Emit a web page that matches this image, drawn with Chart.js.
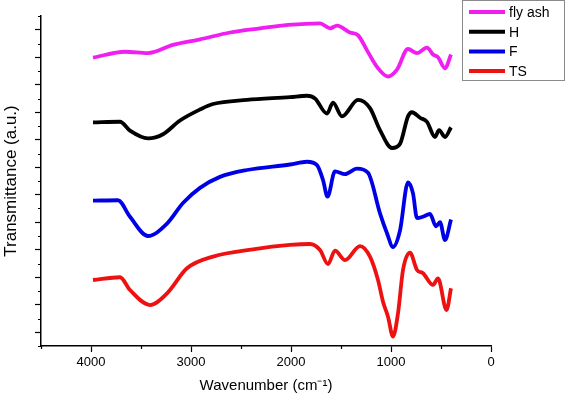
<!DOCTYPE html>
<html>
<head>
<meta charset="utf-8">
<script src="https://cdn.jsdelivr.net/npm/chart.js@4"></script>
<style>
  html, body { margin: 0; padding: 0; background: #fff; }
  #wrap { width: 565px; height: 399px; }
</style>
</head>
<body>
<div id="wrap"><canvas id="ftir" width="565" height="399"></canvas></div>
<script>
// series names and colours
const seriesNames = ['fly ash', 'H', 'F', 'TS'];
const seriesColors = ['#f01ef0', '#000000', '#0000e6', '#ee1111'];

// wavenumber (cm-1) / transmittance (a.u., stacked)
const flyAshX = [3980, 3660, 3430, 3180, 2910, 2610, 2310, 2030, 1710, 1610, 1540, 1410, 1330, 1240, 1140, 1030, 940, 830, 740, 640, 580, 530, 460, 400];
const flyAshY = [20.97, 21.4, 21.3, 21.9, 22.3, 22.8, 23.1, 23.35, 23.47, 23.1, 23.3, 22.8, 22.6, 21.5, 20.3, 19.6, 20.1, 21.6, 21.3, 21.7, 21.2, 21.0, 20.2, 21.2];

const hX = [3980, 3710, 3610, 3430, 3280, 3110, 2910, 2780, 2440, 2010, 1840, 1760, 1640, 1580, 1490, 1330, 1210, 1110, 990, 910, 830, 790, 710, 640, 560, 520, 460, 400];
const hY = [16.27, 16.31, 15.66, 15.1, 15.4, 16.4, 17.2, 17.6, 17.9, 18.1, 18.2, 18.0, 16.9, 17.7, 16.7, 17.9, 17.3, 15.7, 14.4, 14.7, 16.7, 17.0, 16.6, 16.3, 15.2, 15.7, 15.2, 15.9];

const fX = [3980, 3730, 3610, 3430, 3240, 3080, 2910, 2710, 2440, 2010, 1840, 1740, 1680, 1635, 1560, 1460, 1340, 1230, 1110, 1040, 980, 910, 830, 780, 740, 680, 610, 550, 510, 460, 400];
const fY = [10.57, 10.6, 9.4, 8.0, 8.9, 10.4, 11.5, 12.3, 12.8, 13.2, 13.4, 13.16, 12.07, 10.86, 12.7, 12.5, 12.9, 12.6, 9.65, 8.2, 7.2, 8.4, 11.9, 11.1, 9.3, 9.4, 9.6, 8.7, 9.0, 7.7, 9.2];

const tsX = [3980, 3710, 3610, 3410, 3240, 3040, 2780, 2380, 2010, 1810, 1710, 1630, 1560, 1460, 1310, 1210, 1130, 1080, 1030, 980, 930, 880, 810, 740, 680, 580, 530, 445, 400];
const tsY = [4.8, 5.0, 4.07, 2.98, 3.83, 5.65, 6.5, 7.03, 7.35, 7.42, 6.98, 5.96, 6.93, 6.25, 7.27, 6.5, 4.8, 3.22, 2.13, 0.68, 2.38, 5.53, 6.79, 5.53, 5.29, 4.44, 4.92, 2.62, 4.2];

// axis ticks
const xTickStep = 500;
const xLabelEvery = 1000;
const yTickStep = 1;

const allX = [flyAshX, hX, fX, tsX];
const allY = [flyAshY, hY, fY, tsY];

const fontFamily = '"Liberation Sans", Arial, sans-serif';

const datasets = seriesNames.map((name, i) => ({
  label: name,
  data: allX[i].map((x, j) => ({ x: x, y: allY[i][j] })),
  borderColor: seriesColors[i],
  backgroundColor: seriesColors[i],
  borderWidth: 3.8,
  pointRadius: 0,
  tension: 0.4,
  cubicInterpolationMode: 'monotone',
  fill: false
}));

const isMajorX = v => v % xLabelEvery === 0;
const isMajorY = v => Math.round(v) % 2 === 1;

// short minor ticks, the library draws the long ones
const minorTicks = {
  id: 'minorTicks',
  afterDraw(chart) {
    const ctx = chart.ctx;
    const xs = chart.scales.x, ys = chart.scales.y;
    ctx.save();
    ctx.strokeStyle = '#000';
    ctx.lineWidth = 1.2;
    ctx.beginPath();
    xs.ticks.forEach(t => {
      if (isMajorX(t.value)) return;
      const px = Math.round(xs.getPixelForValue(t.value)) + 0.5;
      ctx.moveTo(px, xs.top);
      ctx.lineTo(px, xs.top + 3);
    });
    ys.ticks.forEach(t => {
      if (isMajorY(t.value)) return;
      const py = Math.round(ys.getPixelForValue(t.value)) + 0.5;
      ctx.moveTo(ys.right, py);
      ctx.lineTo(ys.right - 3, py);
    });
    ctx.stroke();
    ctx.restore();
  }
};

// boxed legend sitting over the top right corner
const boxLegend = {
  id: 'boxLegend',
  afterDraw(chart) {
    const ctx = chart.ctx;
    ctx.save();
    ctx.strokeStyle = '#8a8a8a';
    ctx.lineWidth = 1;
    ctx.fillStyle = '#fff';
    ctx.fillRect(462, 0.5, 102, 80);
    ctx.strokeRect(462.5, 0.5, 102, 80);
    ctx.font = '14px ' + fontFamily;
    ctx.textBaseline = 'middle';
    seriesNames.forEach((name, i) => {
      const y = 12 + i * 19.7;
      ctx.strokeStyle = seriesColors[i];
      ctx.lineWidth = 4;
      ctx.beginPath();
      ctx.moveTo(469, y);
      ctx.lineTo(505, y);
      ctx.stroke();
      ctx.fillStyle = '#000';
      ctx.fillText(name, 509, y + 1);
    });
    ctx.restore();
  }
};

new Chart(document.getElementById('ftir'), {
  type: 'line',
  data: { datasets: datasets },
  plugins: [minorTicks, boxLegend],
  options: {
    responsive: false,
    animation: false,
    layout: { padding: { top: 16, right: 74, left: 0, bottom: 0 } },
    plugins: { legend: { display: false }, tooltip: { enabled: false } },
    scales: {
      x: {
        type: 'linear',
        reverse: true,
        min: 0,
        max: 4500,
        afterFit(scale) { scale.height = 53; },
        border: { color: '#000', width: 1.5 },
        grid: {
          drawOnChartArea: false,
          drawTicks: true,
          tickLength: 6,
          tickWidth: 1.2,
          tickColor: c => (c.tick && isMajorX(c.tick.value) ? '#000' : 'rgba(0,0,0,0)')
        },
        ticks: {
          stepSize: xTickStep,
          autoSkip: false,
          maxRotation: 0,
          color: '#000',
          font: { family: fontFamily, size: 13 },
          padding: 3,
          callback: v => (isMajorX(v) ? String(v) : '')
        },
        title: {
          display: true,
          text: 'Wavenumber (cm\u207B\u00B9)',
          color: '#000',
          font: { family: fontFamily, size: 15 },
          padding: { top: 4, bottom: 4 }
        }
      },
      y: {
        type: 'linear',
        min: 0,
        max: 24,
        afterFit(scale) { scale.width = 41; },
        border: { color: '#000', width: 1.5 },
        grid: {
          drawOnChartArea: false,
          drawTicks: true,
          tickLength: 6,
          tickWidth: 1.2,
          tickColor: c => (c.tick && isMajorY(c.tick.value) ? '#000' : 'rgba(0,0,0,0)')
        },
        ticks: { stepSize: yTickStep, display: false },
        title: {
          display: true,
          text: 'Transmittance (a.u.)',
          color: '#000',
          font: { family: fontFamily, size: 17 },
          padding: { top: 1, bottom: 4 }
        }
      }
    }
  }
});
</script>
</body>
</html>
